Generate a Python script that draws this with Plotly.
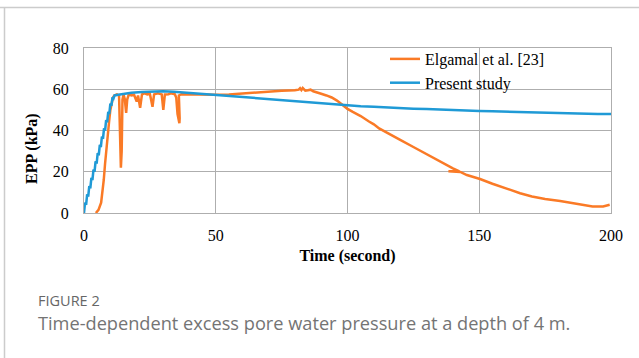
import plotly.graph_objects as go

# Elgamal et al. [23] — measured excess pore pressure (kPa) vs time (s)
elgamal_t = [4.5, 5.5, 6.5, 7.0, 7.5, 8.0, 8.5, 9.0, 9.5, 10.0, 10.5, 11.0, 11.5, 12.5,
             13.3, 13.7, 14.0, 14.3, 14.6, 15.0, 15.5, 16.0, 16.4, 17.0, 18.0, 19.0, 20.0,
             20.5, 21.3, 22.0, 23.0, 24.0, 25.0, 26.0, 26.6, 28.0, 29.5, 30.1, 30.7, 32.0,
             33.0, 34.5, 35.0, 35.5, 36.2, 36.3, 36.0, 37.0, 40.0, 45.0, 50.0, 55.0, 60.0,
             65.0, 70.0, 75.0, 80.0, 81.5, 82.0, 82.5, 83.0, 84.0, 85.0, 86.0, 87.0, 88.0,
             90.0, 92.0, 94.0, 96.0, 98.0, 100.0, 102.0, 105.0, 108.0, 110.0, 112.0, 115.0,
             120.0, 125.0, 130.0, 135.0, 137.5, 140.0, 142.5, 138.3, 142.8, 145.3, 150.3,
             155.0, 160.0, 165.5, 170.0, 175.0, 180.7, 185.0, 190.0, 193.0, 197.0, 199.5]
elgamal_epp = [0.0, 1.5, 5.0, 10.0, 16.0, 24.0, 32.0, 38.0, 44.0, 50.0, 53.0, 56.0, 57.0, 57.5,
               57.0, 40.0, 22.0, 30.0, 55.0, 57.5, 55.0, 48.5, 55.0, 57.5, 57.0, 57.3, 54.0,
               57.0, 51.0, 57.5, 58.0, 57.5, 57.8, 51.5, 57.5, 58.0, 57.5, 50.0, 57.5, 57.6,
               58.0, 57.5, 56.0, 48.0, 43.5, 46.0, 57.0, 57.6, 57.5, 57.3, 57.3, 57.5, 58.0,
               58.5, 59.0, 59.3, 59.5, 59.8, 60.5, 59.6, 60.6, 59.3, 59.5, 59.8, 59.0, 58.5,
               57.8, 57.0, 56.0, 54.5, 52.5, 50.5, 49.0, 47.0, 44.5, 43.0, 41.0, 38.8,
               35.5, 32.0, 28.5, 25.0, 23.0, 21.6, 20.2, 20.3, 19.9, 18.4, 16.5,
               14.2, 12.0, 9.6, 8.0, 6.8, 5.8, 5.0, 4.0, 3.2, 3.2, 4.0]

# Present study — computed excess pore pressure (kPa) vs time (s)
present_t = [0.0, 0.4, 0.8, 1.2, 1.6, 2.0, 2.4, 2.8, 3.2, 3.6, 4.0, 4.4, 4.8, 5.2, 5.6, 6.0,
             6.4, 6.8, 7.2, 7.6, 8.0, 8.4, 8.8, 9.2, 9.6, 10.0, 10.4, 10.8, 11.2, 11.6,
             13.0, 15.0, 18.0, 22.0, 26.0, 30.0, 34.0, 38.0, 42.0, 46.0, 50.0, 55.0, 60.0,
             65.0, 70.0, 75.0, 80.0, 85.0, 90.0, 95.0, 100.0, 105.0, 110.0, 115.0, 120.0,
             125.0, 130.0, 135.0, 140.0, 145.0, 150.0, 155.0, 160.0, 165.0, 170.0, 175.0,
             180.0, 185.0, 190.0, 195.0, 200.0]
present_epp = [0.0, 5.0, 4.0, 9.0, 8.0, 13.0, 12.0, 17.0, 16.0, 21.0, 20.0, 25.0, 24.0, 29.0,
               28.0, 33.0, 32.0, 37.0, 36.0, 41.0, 40.0, 45.0, 44.0, 49.0, 48.0, 53.0, 52.0,
               56.0, 55.5, 57.0, 57.3, 57.8, 58.3, 58.7, 59.0, 59.0, 58.8, 58.4, 58.0, 57.6,
               57.3, 56.8, 56.2, 55.7, 55.2, 54.7, 54.2, 53.6, 53.1, 52.7, 52.2, 51.8, 51.5,
               51.1, 50.8, 50.6, 50.4, 50.1, 49.9, 49.7, 49.5, 49.3, 49.1, 49.0, 48.9, 48.7,
               48.5, 48.4, 48.2, 48.0, 48.0]

x_ticks = [0, 50, 100, 150, 200]
y_ticks = [0, 20, 40, 60, 80]

ORANGE = "#FA7A26"
BLUE = "#1F9AD6"
GRID = "#AEAEAE"
SERIF = "Liberation Serif, Times New Roman, serif"
SANS = "Open Sans, Noto Sans, sans-serif"

W, H = 639, 358
L, R, T, B = 84, 28, 48, 145
PH = H - T - B
PW = W - L - R


def px_to_paper_x(px):
    return (px - L) / PW


def px_to_paper_y(py):
    return (H - B - py) / PH


fig = go.Figure()
fig.add_trace(go.Scatter(x=elgamal_t, y=elgamal_epp, mode="lines", name="Elgamal et al. [23]",
                         line=dict(color=ORANGE, width=2.5)))
fig.add_trace(go.Scatter(x=present_t, y=present_epp, mode="lines", name="Present study",
                         line=dict(color=BLUE, width=2.5)))

fig.update_layout(
    width=W, height=H,
    margin=dict(l=L, r=R, t=T, b=B, pad=0),
    paper_bgcolor="white", plot_bgcolor="white",
    font=dict(family=SERIF, size=16, color="black"),
    showlegend=True,
    legend=dict(x=px_to_paper_x(385), y=px_to_paper_y(42), xanchor="left", yanchor="top",
                bgcolor="rgba(0,0,0,0)", font=dict(family=SERIF, size=16, color="black"),
                tracegroupgap=0, itemwidth=30),
    xaxis=dict(range=[0, 200], tickvals=x_ticks, ticktext=[str(v) for v in x_ticks],
               showgrid=True, gridcolor=GRID, gridwidth=1, zeroline=False,
               showline=True, linecolor=GRID, linewidth=1, mirror=True,
               ticks="", ticklabelstandoff=8, tickfont=dict(family=SERIF, size=16),
               title=dict(text="<b>Time (second)</b>", font=dict(family=SERIF, size=16),
                          standoff=6)),
    yaxis=dict(range=[0, 80], tickvals=y_ticks, ticktext=[str(v) for v in y_ticks],
               showgrid=True, gridcolor=GRID, gridwidth=1, zeroline=False,
               showline=True, linecolor=GRID, linewidth=1, mirror=True,
               ticks="", ticklabelstandoff=11, tickfont=dict(family=SERIF, size=16)),
)

# y-axis title, set slightly below the plot centre
fig.add_annotation(text="<b>EPP (kPa)</b>", xref="paper", yref="paper", textangle=-90,
                   x=px_to_paper_x(32), y=px_to_paper_y(149), xanchor="center", yanchor="middle",
                   showarrow=False, font=dict(family=SERIF, size=16, color="black"))

# page frame: top rule and left rule
fig.add_shape(type="line", xref="paper", yref="paper",
              x0=px_to_paper_x(0), x1=px_to_paper_x(W), y0=px_to_paper_y(7.5), y1=px_to_paper_y(7.5),
              line=dict(color="#CCCCCC", width=1.5))
fig.add_shape(type="line", xref="paper", yref="paper",
              x0=px_to_paper_x(4.5), x1=px_to_paper_x(4.5), y0=px_to_paper_y(7.5), y1=px_to_paper_y(H),
              line=dict(color="#CCCCCC", width=1.5))

# figure caption
fig.add_annotation(text="FIGURE 2", xref="paper", yref="paper",
                   x=px_to_paper_x(36), y=px_to_paper_y(300), xanchor="left", yanchor="middle",
                   showarrow=False, font=dict(family=SANS, size=14.5, color="#666666"))
fig.add_annotation(text="Time-dependent excess pore water pressure at a depth of 4 m.",
                   xref="paper", yref="paper",
                   x=px_to_paper_x(36), y=px_to_paper_y(323), xanchor="left", yanchor="middle",
                   showarrow=False, font=dict(family=SANS, size=18.2, color="#747474"))

fig.write_html("out.html")
